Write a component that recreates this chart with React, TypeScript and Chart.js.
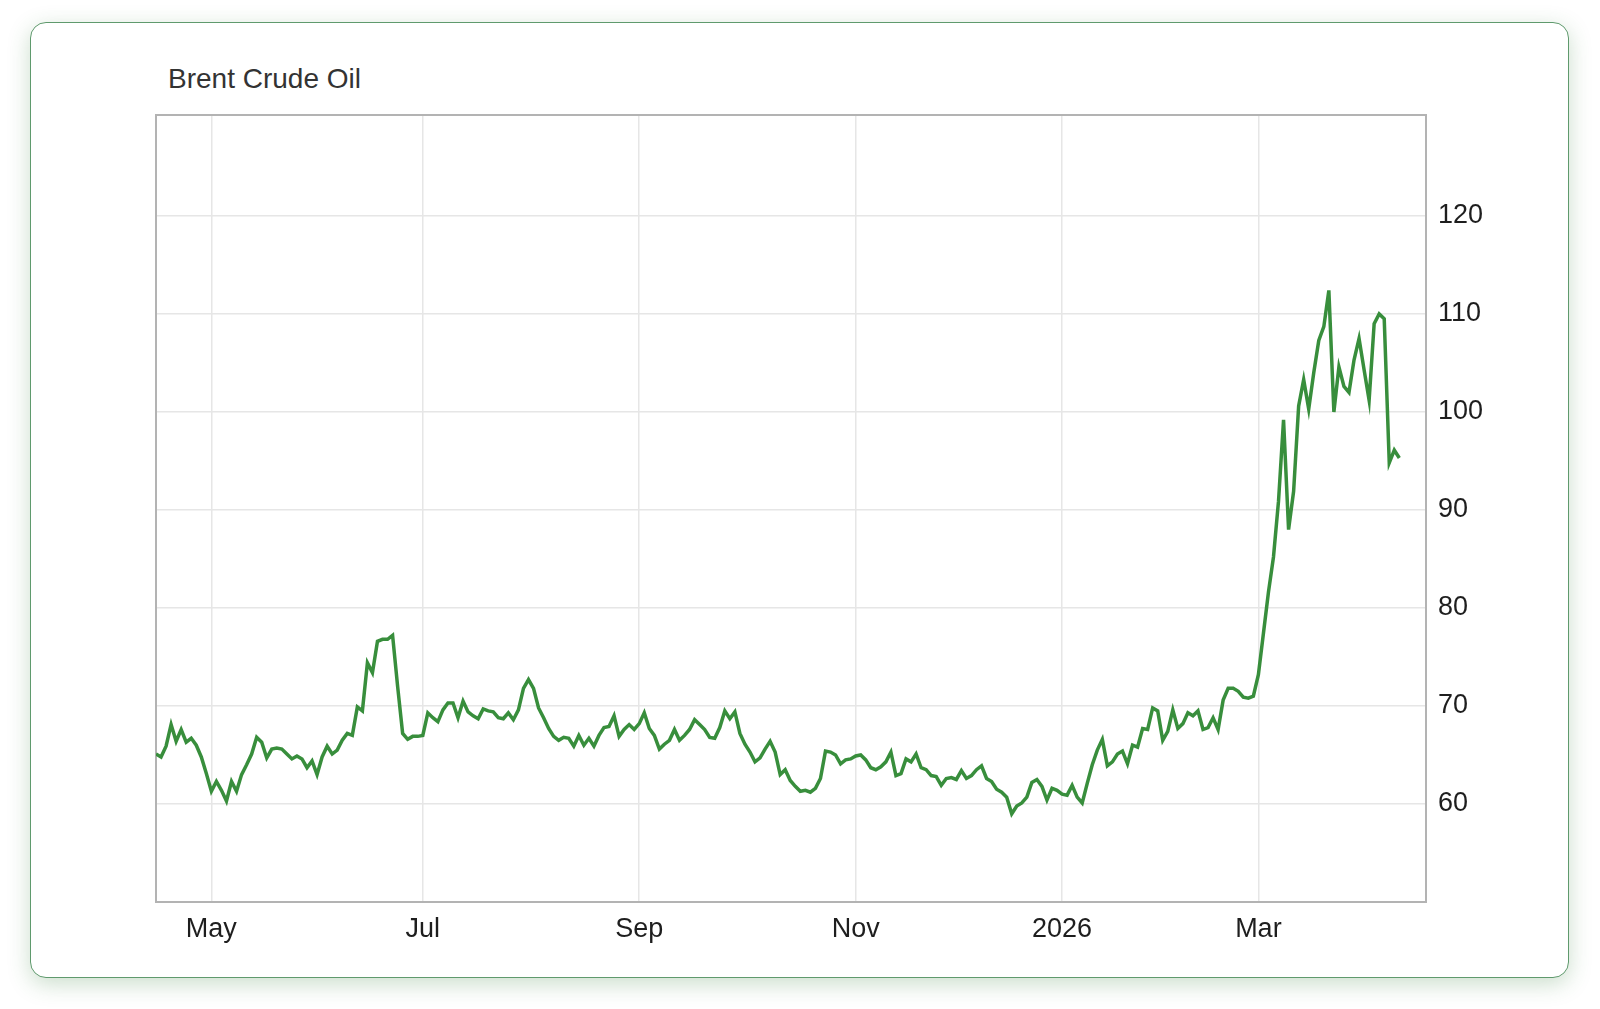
import { useEffect, useRef } from "react";
import { Chart, registerables } from "chart.js";

Chart.register(...registerables);

const FONT = "'Liberation Sans', Arial, Helvetica, sans-serif";

// Brent daily closes (USD/bbl), one value per trading day, mid Apr 2025 -> early Apr 2026
const brentClose: number[] = [
  65.1, 64.8, 65.9, 68.1, 66.4, 67.6, 66.3, 66.7, 66.0, 64.8,
  63.1, 61.3, 62.3, 61.4, 60.3, 62.3, 61.3, 63.0, 64.0, 65.1,
  66.8, 66.3, 64.7, 65.6, 65.7, 65.6, 65.1, 64.6, 64.9, 64.6,
  63.7, 64.4, 63.0, 64.8, 65.9, 65.1, 65.5, 66.5, 67.2, 67.0,
  69.9, 69.5, 74.4, 73.4, 76.6, 76.8, 76.8, 77.2, 72.0, 67.2,
  66.6, 66.9, 66.9, 67.0, 69.3, 68.8, 68.4, 69.6, 70.3, 70.3,
  68.8, 70.5, 69.4, 69.0, 68.7, 69.7, 69.5, 69.4, 68.8, 68.7,
  69.3, 68.6, 69.6, 71.8, 72.7, 71.8, 69.8, 68.8, 67.7, 66.9,
  66.5, 66.8, 66.7, 65.9, 67.0, 66.0, 66.7, 65.9, 67.0, 67.8,
  67.9, 69.0, 66.9, 67.6, 68.1, 67.6, 68.2, 69.3, 67.7, 67.0,
  65.6, 66.1, 66.5, 67.6, 66.5, 67.0, 67.6, 68.6, 68.1, 67.6,
  66.8, 66.7, 67.8, 69.5, 68.7, 69.4, 67.2, 66.1, 65.3, 64.3,
  64.7, 65.6, 66.4, 65.3, 63.0, 63.5, 62.4, 61.8, 61.3, 61.4,
  61.2, 61.6, 62.6, 65.4, 65.3, 65.0, 64.1, 64.5, 64.6, 64.9,
  65.0, 64.5, 63.7, 63.5, 63.8, 64.3, 65.3, 62.9, 63.1, 64.6,
  64.3, 65.1, 63.7, 63.5, 62.9, 62.8, 61.9, 62.6, 62.7, 62.5,
  63.4, 62.6, 62.9, 63.5, 63.9, 62.6, 62.3, 61.5, 61.2, 60.7,
  59.0, 59.8, 60.1, 60.7, 62.2, 62.5, 61.8, 60.4, 61.6, 61.4,
  61.0, 60.9, 61.9, 60.7, 60.1, 62.1, 64.0, 65.5, 66.6, 63.9,
  64.3, 65.1, 65.4, 64.1, 66.0, 65.8, 67.7, 67.6, 69.8, 69.5,
  66.5, 67.4, 69.6, 67.7, 68.2, 69.3, 69.0, 69.5, 67.6, 67.8,
  68.8, 67.6, 70.6, 71.8, 71.8, 71.5, 70.9, 70.8, 71.0, 73.2,
  77.4, 81.6, 85.2, 90.9, 99.2, 88.0, 91.9, 100.6, 103.3, 100.3,
  104.0, 107.3, 108.7, 112.4, 100.0, 104.6, 102.6, 102.0, 105.3, 107.5,
  104.3, 101.2, 109.0, 110.0, 109.5, 94.8, 96.1, 95.3,
];

// first trading day of each labelled month (index into brentClose)
const monthTickIndex = [11, 53, 96, 139, 180, 219];
const monthTickLabels = ["May", "Jul", "Sep", "Nov", "2026", "Mar"];
const priceTicks = [60, 70, 80, 90, 100, 110, 120];

const plotFrame = {
  id: "plotFrame",
  beforeDatasetsDraw(chart: Chart) {
    const { ctx, chartArea } = chart;
    ctx.save();
    ctx.strokeStyle = "#b3b3b3";
    ctx.lineWidth = 2;
    ctx.strokeRect(
      chartArea.left,
      chartArea.top,
      chartArea.right - chartArea.left,
      chartArea.bottom - chartArea.top
    );
    ctx.restore();
  },
};

function BrentChart() {
  const canvasRef = useRef<HTMLCanvasElement>(null);

  useEffect(() => {
    if (!canvasRef.current) return;

    const chart = new Chart(canvasRef.current, {
      type: "line",
      data: {
        datasets: [
          {
            label: "Brent Crude Oil",
            data: brentClose.map((v, i) => ({ x: i, y: v })),
            borderColor: "#388e3c",
            borderWidth: 3.5,
            pointRadius: 0,
            tension: 0,
            fill: false,
          },
        ],
      },
      options: {
        animation: false,
        responsive: true,
        maintainAspectRatio: false,
        layout: { padding: { left: 16, top: 15, right: 0, bottom: 0 } },
        plugins: {
          legend: { display: false },
          tooltip: { enabled: false },
        },
        scales: {
          x: {
            type: "linear",
            min: 0,
            max: 252.3,
            afterBuildTicks: (scale: any) => {
              scale.ticks = monthTickIndex.map((v) => ({ value: v }));
            },
            afterFit: (scale: any) => {
              scale.height = 68;
              scale.paddingLeft = 0;
              scale.paddingRight = 0;
            },
            grid: { color: "#e6e6e6", lineWidth: 1.5, drawTicks: false },
            border: { display: false },
            ticks: {
              autoSkip: false,
              maxRotation: 0,
              padding: 11,
              color: "#1e1e1e",
              font: { family: FONT, size: 27 },
              callback: (_v: any, i: number) => monthTickLabels[i],
            },
          },
          y: {
            position: "right",
            min: 50,
            max: 130.3,
            afterBuildTicks: (scale: any) => {
              scale.ticks = priceTicks.map((v) => ({ value: v }));
            },
            afterFit: (scale: any) => {
              scale.width = 94;
              scale.paddingTop = 0;
              scale.paddingBottom = 0;
            },
            grid: { color: "#e6e6e6", lineWidth: 1.5, drawTicks: false },
            border: { display: false },
            ticks: {
              padding: 12,
              color: "#1e1e1e",
              font: { family: FONT, size: 27 },
              callback: (v: any) => String(v),
            },
          },
        },
      },
      plugins: [plotFrame],
    });

    return () => {
      chart.destroy();
    };
  }, []);

  return (
    <div
      style={{
        position: "absolute",
        left: 140,
        top: 100,
        width: 1380,
        height: 870,
      }}
    >
      <canvas ref={canvasRef} />
    </div>
  );
}

export default function App() {
  return (
    <div
      style={{
        position: "absolute",
        left: 0,
        top: 0,
        width: 1600,
        height: 1009,
        background: "#fff",
        fontFamily: FONT,
      }}
    >
      <div
        style={{
          position: "absolute",
          left: 30,
          top: 22,
          width: 1539,
          height: 956,
          boxSizing: "border-box",
          border: "1.5px solid #5f9a6d",
          borderRadius: 16,
          background: "#fff",
          boxShadow: "0 6px 22px rgba(46, 125, 50, 0.25)",
        }}
      />
      <div
        style={{
          position: "absolute",
          left: 168,
          top: 65,
          fontSize: 28,
          lineHeight: "28px",
          color: "#333",
          whiteSpace: "nowrap",
        }}
      >
        Brent Crude Oil
      </div>
      <BrentChart />
    </div>
  );
}
